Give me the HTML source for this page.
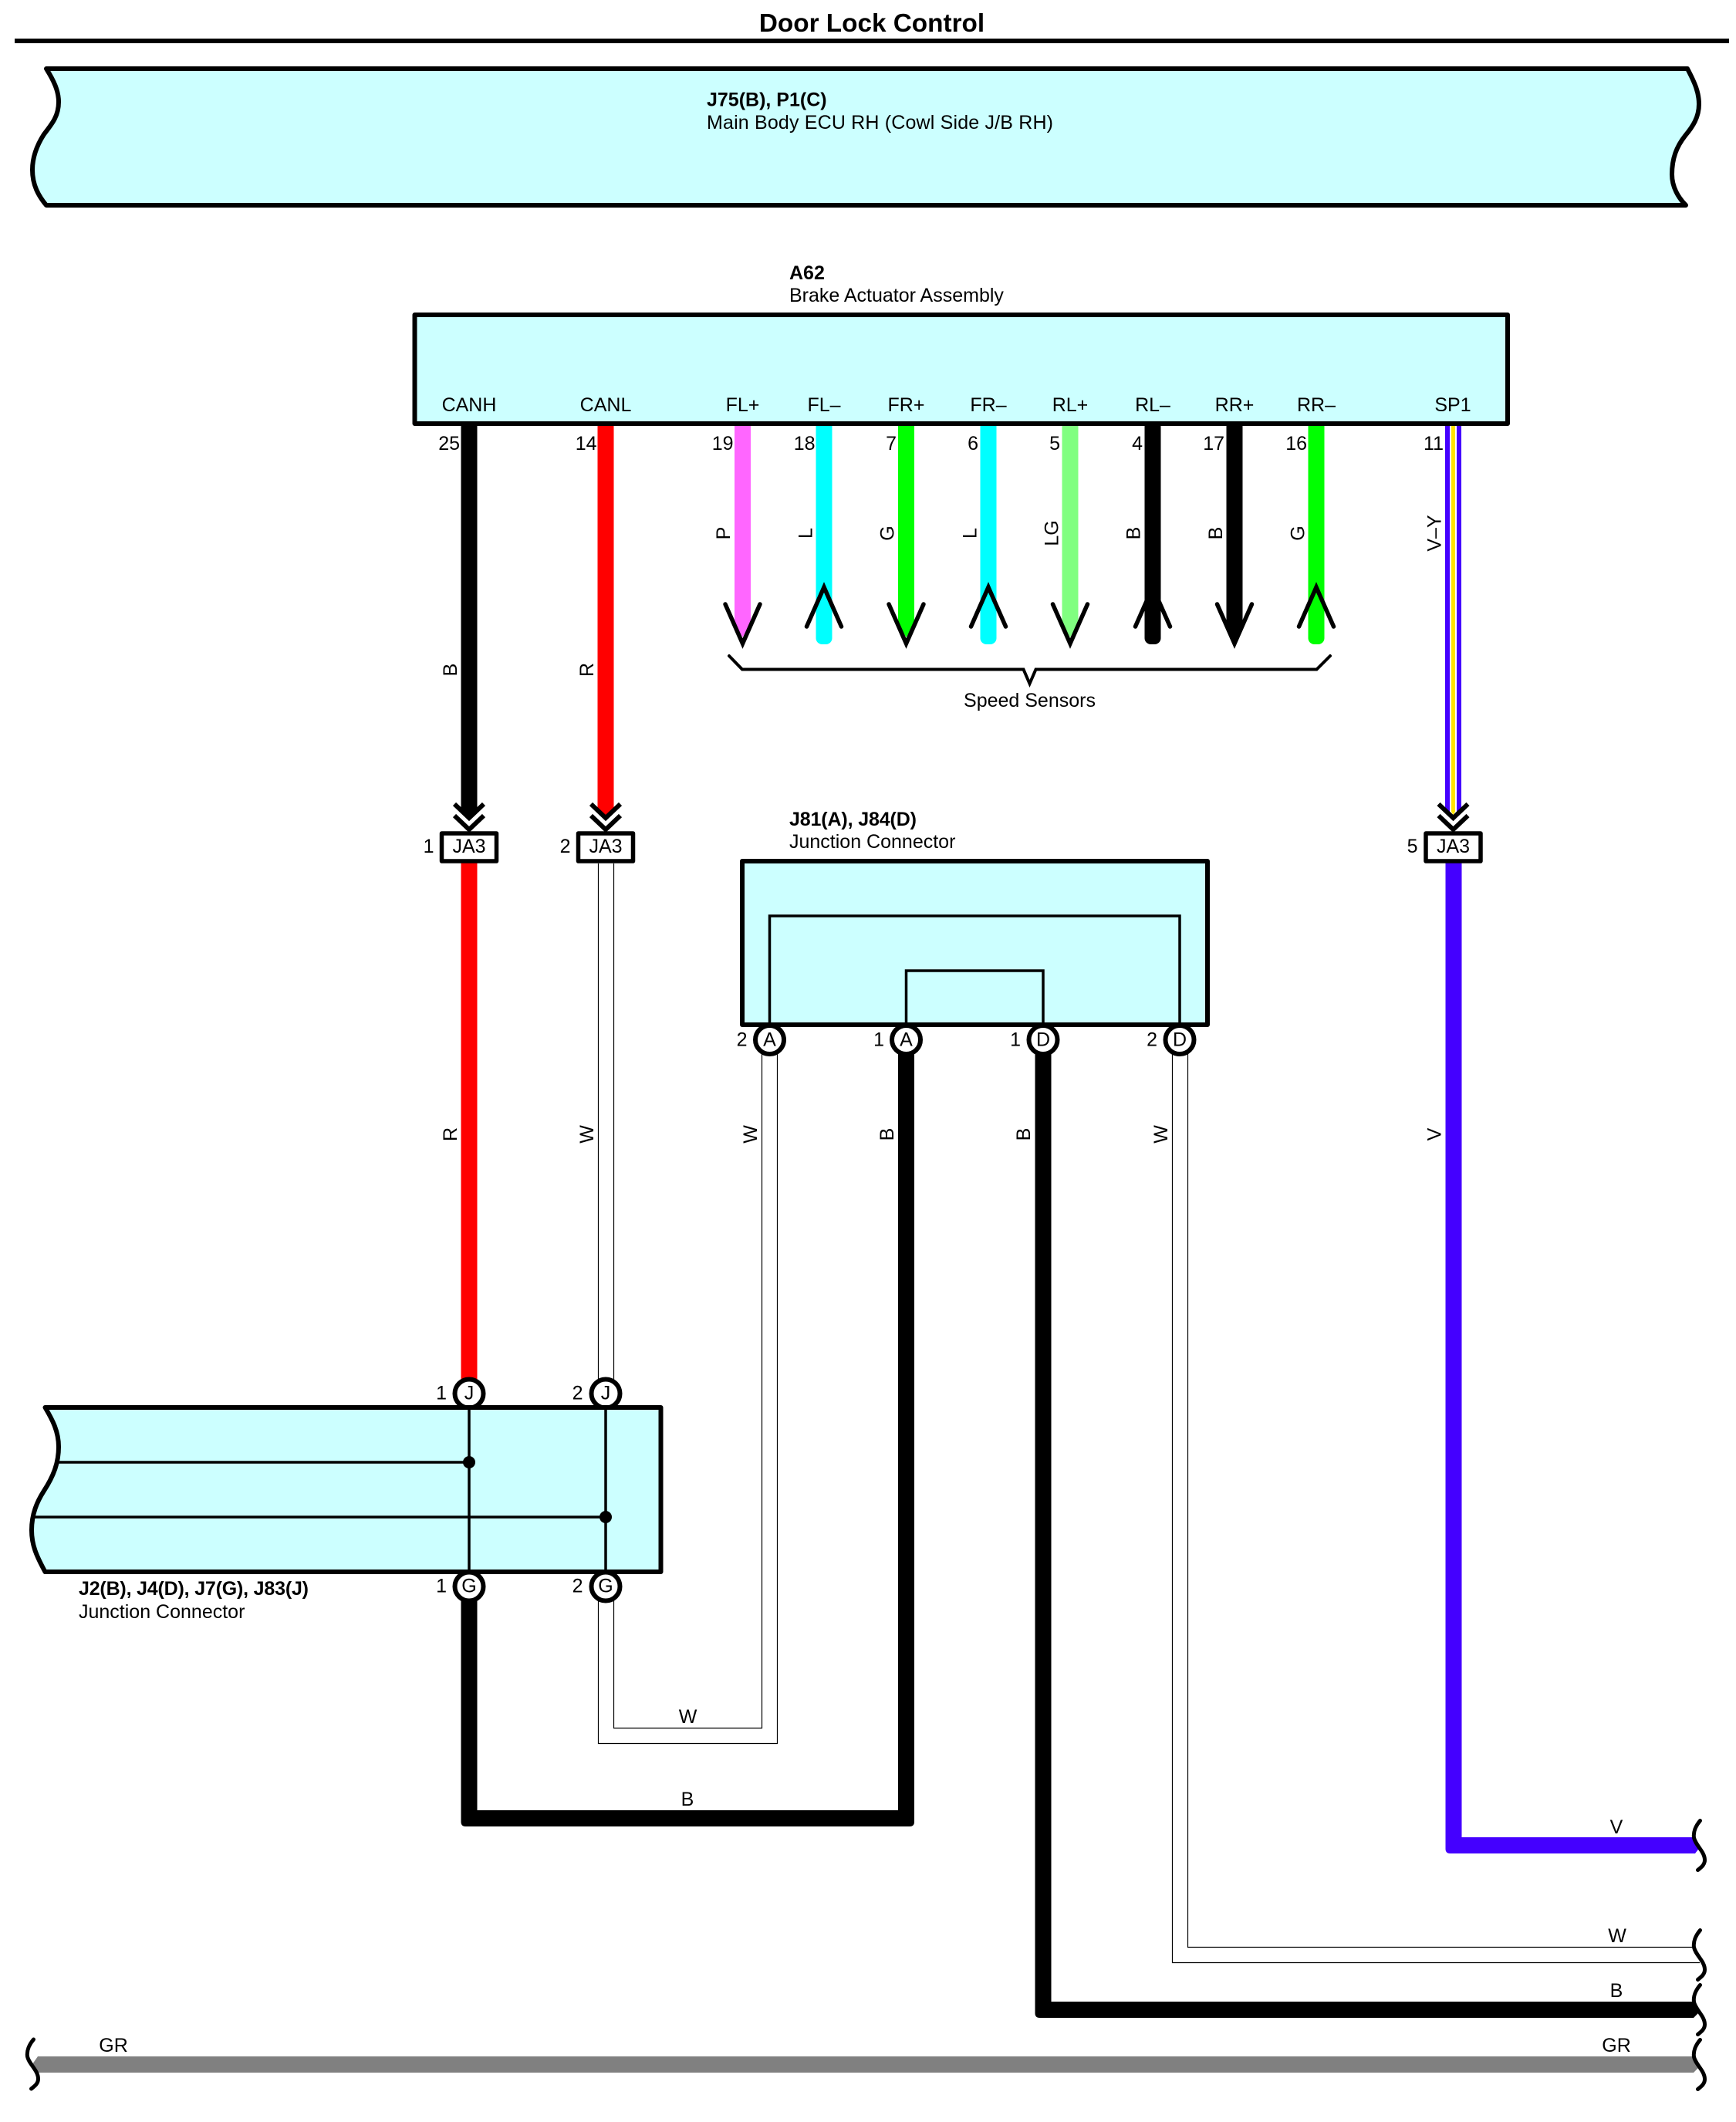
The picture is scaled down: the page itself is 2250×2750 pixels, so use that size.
<!DOCTYPE html>
<html><head><meta charset="utf-8"><title>Door Lock Control</title>
<style>
html,body{margin:0;padding:0;background:#fff}
svg{display:block}
text{font-family:"Liberation Sans",Arial,sans-serif;font-size:25px;fill:#000}
.b{font-weight:bold}
.m{text-anchor:middle}
.e{text-anchor:end}
.thin{fill:none;stroke:#000;stroke-width:1.2}
.arm{fill:none;stroke:#000;stroke-width:5.5;stroke-linecap:round;stroke-linejoin:miter}
.chev{fill:none;stroke:#000;stroke-width:6}
.box{fill:#ccffff;stroke:#000;stroke-width:6;stroke-linejoin:round}
.in{fill:none;stroke:#000;stroke-width:3.5}
.pin{fill:#fff;stroke:#000;stroke-width:6}
.cur{fill:none;stroke:#000;stroke-width:5;stroke-linecap:round}
</style></head><body>
<svg xmlns="http://www.w3.org/2000/svg" width="2250" height="2750" viewBox="0 0 2250 2750">
<rect width="2250" height="2750" fill="#fff"/>
<text x="1130" y="41" class="b m" style="font-size:33.3px">Door Lock Control</text>
<rect x="19" y="50" width="2222" height="6" fill="#000"/>

<path class="box" d="M60,89 H2187 C2197,108 2202,120 2202,135 C2202,152 2194,164 2184,176 C2173,190 2167,205 2167,226 C2167,242 2175,256 2185,266 H60 C50,254 42,240 42,220 C42,203 48,188 57,174 C68,160 76,150 76,132 C76,118 70,105 60,89 Z"/>
<text x="916" y="137.5" class="b">J75(B), P1(C)</text>
<text x="916" y="167" textLength="449" lengthAdjust="spacing">Main Body ECU RH (Cowl Side J/B RH)</text>

<!-- wires upper -->
<g>
<polygon points="597.5,545 618.5,545 618.5,1052 608,1060 597.5,1052" fill="#000"/>
<polygon points="774.5,545 795.5,545 795.5,1052 785,1060 774.5,1052" fill="#f00"/>
<polygon points="952,545 973,545 973,808 962.5,826 952,808" fill="#ff66ff"/>
<rect x="1057.5" y="540" width="21" height="295" rx="8" fill="#0ff"/>
<polygon points="1164,545 1185,545 1185,808 1174.5,826 1164,808" fill="#0f0"/>
<rect x="1270.5" y="540" width="21" height="295" rx="8" fill="#0ff"/>
<polygon points="1376.5,545 1397.5,545 1397.5,808 1387,826 1376.5,808" fill="#80ff80"/>
<rect x="1483.5" y="540" width="21" height="295" rx="8" fill="#000"/>
<polygon points="1589.5,545 1610.5,545 1610.5,808 1600,828 1589.5,808" fill="#000"/>
<rect x="1695.5" y="540" width="21" height="295" rx="8" fill="#0f0"/>
<polygon points="1873,545 1894,545 1894,1052 1883.5,1060 1873,1052" fill="#4400ff"/>
<polygon points="1879,545 1888,545 1888,1052 1883.5,1058 1879,1052" fill="#fff"/>
<polygon points="1881,545 1886,545 1886,1052 1883.5,1056 1881,1052" fill="#ffe600"/>
</g>
<g class="arm">
<path d="M940,783 L962.5,834 L985,783"/>
<path d="M1045.5,812 L1068,761 L1090.5,812"/>
<path d="M1152,783 L1174.5,834 L1197,783"/>
<path d="M1258.5,812 L1281,761 L1303.5,812"/>
<path d="M1364.5,783 L1387,834 L1409.5,783"/>
<path d="M1471.5,812 L1494,761 L1516.5,812"/>
<path d="M1577.5,783 L1600,834 L1622.5,783"/>
<path d="M1683.5,812 L1706,761 L1728.5,812"/>
</g>
<path d="M945,850 L962,867.5 H1326.5 L1334.5,886 L1342.5,867.5 H1706.5 L1724,850" fill="none" stroke="#000" stroke-width="4" stroke-linecap="round"/>
<text x="1334.5" y="916" class="m">Speed Sensors</text>

<!-- A62 box -->
<rect class="box" x="537.5" y="408" width="1416.5" height="141" stroke-linejoin="miter"/>
<text x="1023" y="362" class="b">A62</text>
<text x="1023" y="391">Brake Actuator Assembly</text>
<g class="m">
<text x="608" y="533" class="m">CANH</text>
<text x="785" y="533" class="m">CANL</text>
<text x="962.5" y="533" class="m">FL+</text>
<text x="1068" y="533" class="m">FL–</text>
<text x="1174.5" y="533" class="m">FR+</text>
<text x="1281" y="533" class="m">FR–</text>
<text x="1387" y="533" class="m">RL+</text>
<text x="1494" y="533" class="m">RL–</text>
<text x="1600" y="533" class="m">RR+</text>
<text x="1706" y="533" class="m">RR–</text>
<text x="1883" y="533" class="m">SP1</text>
</g>
<text x="596" y="583" class="e">25</text>
<text x="773.5" y="583" class="e">14</text>
<text x="950.5" y="583" class="e">19</text>
<text x="1056.5" y="583" class="e">18</text>
<text x="1162" y="583" class="e">7</text>
<text x="1268" y="583" class="e">6</text>
<text x="1374" y="583" class="e">5</text>
<text x="1481" y="583" class="e">4</text>
<text x="1587" y="583" class="e">17</text>
<text x="1694" y="583" class="e">16</text>
<text x="1871" y="583" class="e">11</text>

<!-- rotated upper labels -->
<text class="m" transform="translate(946,691) rotate(-90)">P</text>
<text class="m" transform="translate(1052.5,691) rotate(-90)">L</text>
<text class="m" transform="translate(1158.5,691) rotate(-90)">G</text>
<text class="m" transform="translate(1265.5,691) rotate(-90)">L</text>
<text class="m" transform="translate(1371.5,691) rotate(-90)">LG</text>
<text class="m" transform="translate(1477.5,691) rotate(-90)">B</text>
<text class="m" transform="translate(1584,691) rotate(-90)">B</text>
<text class="m" transform="translate(1690.5,691) rotate(-90)">G</text>
<text class="m" transform="translate(1867.5,691) rotate(-90)">V–Y</text>
<text class="m" transform="translate(592,868) rotate(-90)">B</text>
<text class="m" transform="translate(769,868) rotate(-90)">R</text>

<!-- chevrons -->
<g class="chev">
<path d="M589,1042 L608,1060 L627,1042"/><path d="M589,1057 L608,1075 L627,1057"/>
<path d="M766,1042 L785,1060 L804,1042"/><path d="M766,1057 L785,1075 L804,1057"/>
<path d="M1864.5,1042 L1883.5,1060 L1902.5,1042"/><path d="M1864.5,1057 L1883.5,1075 L1902.5,1057"/>
</g>

<!-- middle wires -->
<rect x="597.5" y="1115" width="21" height="675" fill="#f00"/>
<path class="thin" d="M775.5,1119 V1790 M795.5,1119 V1790"/>
<path d="M1873.5,1115 V2396 Q1873.5,2402 1879.5,2402 H2197 L2204,2393 L2197,2381 H1894.5 V1115 Z" fill="#4400ff"/>

<!-- J81 wires -->
<path class="thin" d="M987.5,1365 V2239.5 H795.5 V2070"/>
<path class="thin" d="M1007.5,1365 V2259.5 H775.5 V2070"/>
<path d="M597.5,2070 V2361 Q597.5,2367 603.5,2367 H1179 Q1185,2367 1185,2361 V1365 H1164 V2346 H618.5 V2070 Z" fill="#000"/>
<path d="M1341.5,1365 V2609 Q1341.5,2615 1347.5,2615 H2195 L2204,2606 L2197,2594 H1362.5 V1365 Z" fill="#000"/>
<path class="thin" d="M1519.5,1365 V2543.5 H2203"/>
<path class="thin" d="M1539.5,1365 V2523.5 H2196"/>
<path d="M42,2675 L49,2665 H2197 L2204,2677 L2195,2686 H49 Z" fill="#808080"/>

<!-- JA3 -->
<g fill="#fff" stroke="#000" stroke-width="5.5" stroke-linejoin="round">
<rect x="572.5" y="1080" width="71" height="36"/>
<rect x="749.5" y="1080" width="71" height="36"/>
<rect x="1848" y="1080" width="71" height="36"/>
</g>
<text x="608" y="1105" class="m">JA3</text>
<text x="785" y="1105" class="m">JA3</text>
<text x="1883.5" y="1105" class="m">JA3</text>
<text x="562.5" y="1105" class="e">1</text>
<text x="739.5" y="1105" class="e">2</text>
<text x="1837.5" y="1105" class="e">5</text>

<!-- pins -->
<circle class="pin" cx="997.5" cy="1347.5" r="18.5"/>
<circle class="pin" cx="1174.5" cy="1347.5" r="18.5"/>
<circle class="pin" cx="1352" cy="1347.5" r="18.5"/>
<circle class="pin" cx="1529" cy="1347.5" r="18.5"/>
<circle class="pin" cx="608" cy="1806" r="18.5"/>
<circle class="pin" cx="785" cy="1806" r="18.5"/>
<circle class="pin" cx="608" cy="2056" r="18.5"/>
<circle class="pin" cx="785" cy="2056" r="18.5"/>

<!-- J81 box -->
<rect class="box" x="962" y="1116" width="603" height="212" stroke-linejoin="miter"/>
<path class="in" d="M997.5,1328 V1187 H1529 V1328"/>
<path class="in" d="M1174.5,1328 V1258 H1352 V1328"/>
<text x="1023" y="1070" class="b" textLength="165" lengthAdjust="spacing">J81(A), J84(D)</text>
<text x="1023" y="1099">Junction Connector</text>
<text x="997.5" y="1355.5" class="m">A</text>
<text x="1174.5" y="1355.5" class="m">A</text>
<text x="1352" y="1355.5" class="m">D</text>
<text x="1529" y="1355.5" class="m">D</text>
<text x="968.5" y="1355.5" class="e">2</text>
<text x="1146" y="1355.5" class="e">1</text>
<text x="1323" y="1355.5" class="e">1</text>
<text x="1500" y="1355.5" class="e">2</text>

<!-- J2 box -->
<path class="box" d="M58.5,1824 H856.5 V2037 H58.5 C47,2016 41,2002 41,1983 C41,1962 48,1946 57,1932 C70,1912 76,1895 76,1875 C76,1855 68,1840 58.5,1824 Z"/>
<path class="in" d="M608,1824 V2037 M785,1824 V2037 M76,1895 H608 M42,1966 H785"/>
<circle cx="608" cy="1895" r="8"/><circle cx="785" cy="1966" r="8"/>
<text x="102" y="2067" class="b" textLength="298" lengthAdjust="spacing">J2(B), J4(D), J7(G), J83(J)</text>
<text x="102" y="2097">Junction Connector</text>
<text x="608" y="1813.5" class="m">J</text>
<text x="785" y="1813.5" class="m">J</text>
<text x="608" y="2063.5" class="m">G</text>
<text x="785" y="2063.5" class="m">G</text>
<text x="579" y="1813.5" class="e">1</text>
<text x="755.5" y="1813.5" class="e">2</text>
<text x="579" y="2063.5" class="e">1</text>
<text x="755.5" y="2063.5" class="e">2</text>

<!-- rotated mid labels -->
<text class="m" transform="translate(592,1470) rotate(-90)">R</text>
<text class="m" transform="translate(769,1470) rotate(-90)">W</text>
<text class="m" transform="translate(981,1470) rotate(-90)">W</text>
<text class="m" transform="translate(1158,1470) rotate(-90)">B</text>
<text class="m" transform="translate(1335,1470) rotate(-90)">B</text>
<text class="m" transform="translate(1513,1470) rotate(-90)">W</text>
<text class="m" transform="translate(1867.5,1470) rotate(-90)">V</text>

<text x="891.5" y="2233" class="m">W</text>
<text x="891" y="2340" class="m">B</text>
<text x="2095" y="2376" class="m">V</text>
<text x="2096" y="2517" class="m">W</text>
<text x="2095" y="2588" class="m">B</text>
<text x="2095" y="2659" class="m">GR</text>
<text x="147" y="2659" class="m">GR</text>

<!-- break marks -->
<g class="cur">
<path transform="translate(2201.5,2391.5)" d="M2,-32 C-4,-25 -7,-17 -6,-10 C-4,0 8,8 8,19 C8,25 4,28 -1,32"/>
<path transform="translate(2201.5,2533.5)" d="M2,-32 C-4,-25 -7,-17 -6,-10 C-4,0 8,8 8,19 C8,25 4,28 -1,32"/>
<path transform="translate(2201.5,2604.5)" d="M2,-32 C-4,-25 -7,-17 -6,-10 C-4,0 8,8 8,19 C8,25 4,28 -1,32"/>
<path transform="translate(2201.5,2675.5)" d="M2,-32 C-4,-25 -7,-17 -6,-10 C-4,0 8,8 8,19 C8,25 4,28 -1,32"/>
<path transform="translate(41.5,2675)" d="M2,-32 C-4,-25 -7,-17 -6,-10 C-4,0 8,8 8,19 C8,25 4,28 -1,32"/>
</g>
</svg>
</body></html>
